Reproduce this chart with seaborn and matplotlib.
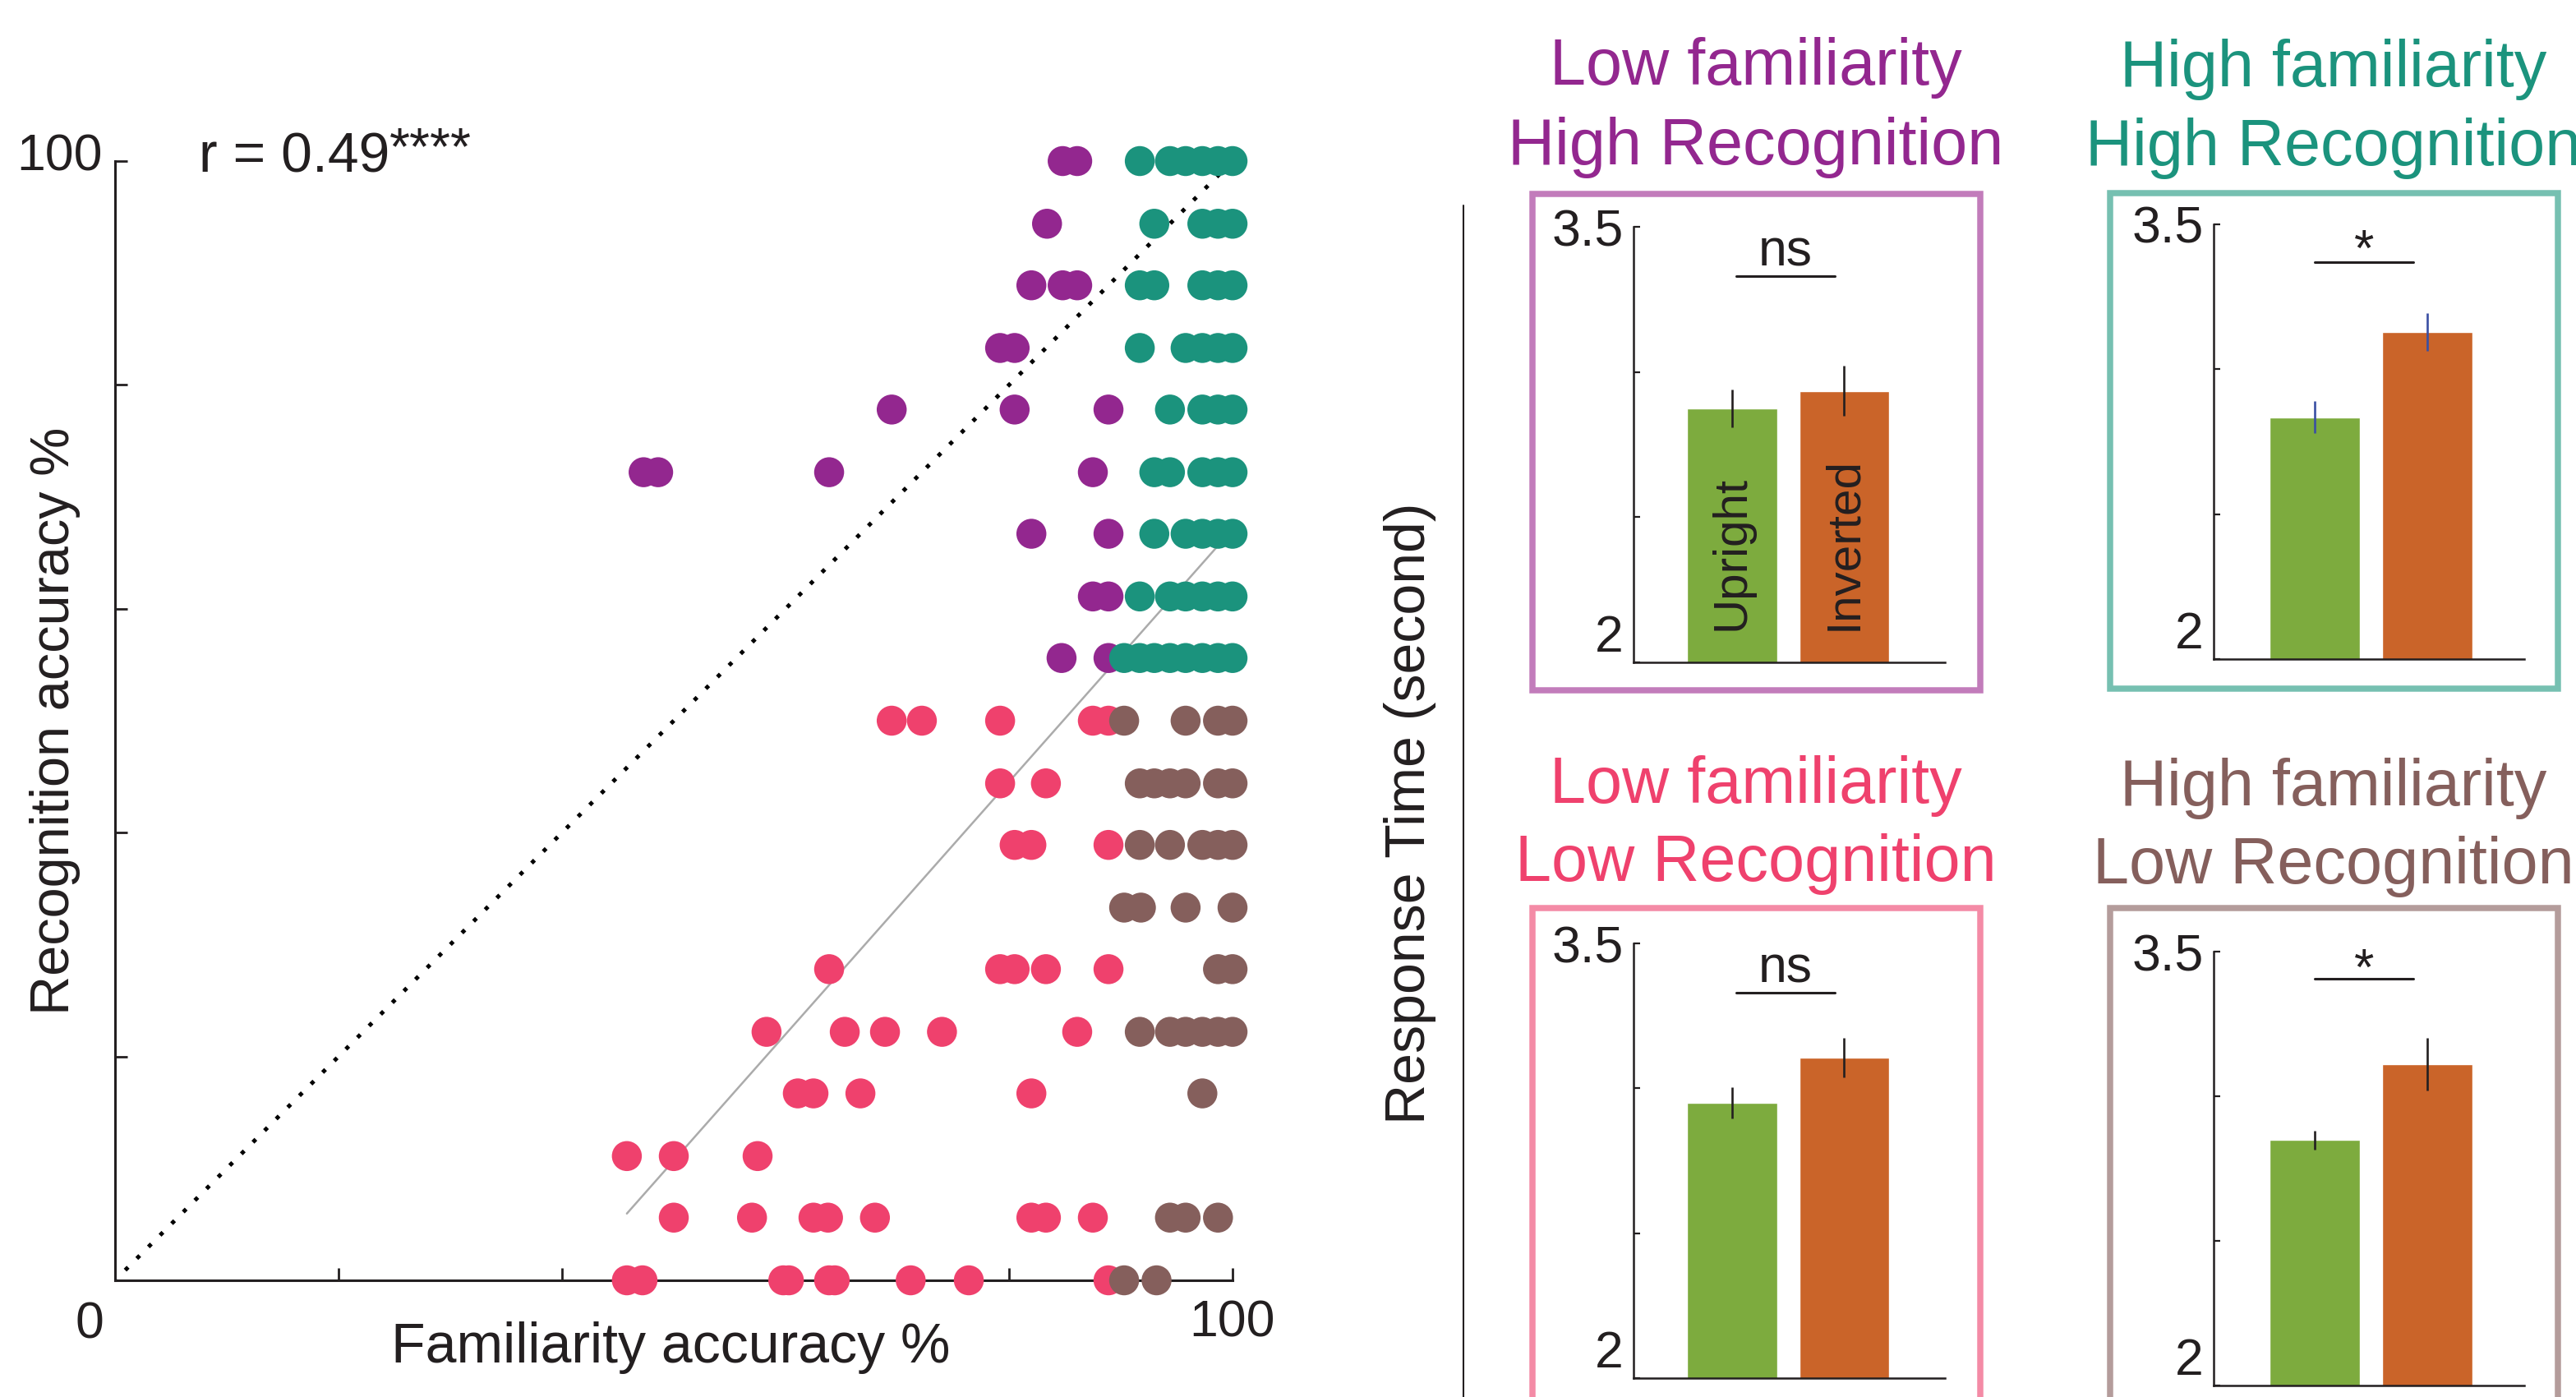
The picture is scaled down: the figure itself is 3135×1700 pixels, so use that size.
import numpy as np
import pandas as pd
import matplotlib
matplotlib.use("Agg")
import matplotlib.pyplot as plt
import seaborn as sns
from matplotlib.patches import Rectangle
from matplotlib.lines import Line2D
from matplotlib.transforms import ScaledTranslation

sns.set_style("ticks")
plt.rcParams['font.family'] = ['Liberation Sans', 'DejaVu Sans']
plt.rcParams['text.color'] = '#231F20'

# ---------------- data: scatter (recognition row -> familiarity values) ----------------
LFHR_rows = {  # low familiarity / high recognition
    100.0: [84.8, 86.1],
    94.4: [83.4],
    88.9: [82.0, 84.8, 86.1],
    83.3: [79.2, 80.5],
    77.8: [69.5, 80.5, 88.9],
    72.2: [47.3, 48.6, 63.9, 87.5],
    66.7: [82.0, 88.9],
    61.1: [87.5, 88.9],
    55.6: [84.7, 88.9],
}
LFLR_rows = {  # low familiarity / low recognition
    50.0: [69.5, 72.2, 79.2, 87.5, 88.9],
    44.4: [79.2, 83.3],
    38.9: [80.5, 82.0, 88.9],
    27.8: [63.9, 79.2, 80.5, 83.3, 88.9],
    22.2: [58.3, 65.3, 68.9, 74.0, 86.1],
    16.7: [61.1, 62.5, 66.7, 82.0],
    11.1: [45.8, 50.0, 57.5],
    5.6: [50.0, 57.0, 62.5, 63.8, 68.0, 82.0, 83.3, 87.5],
    0.0: [45.8, 47.2, 59.8, 60.3, 63.9, 64.4, 71.2, 76.4, 88.9],
}
HFHR_rows = {  # high familiarity / high recognition
    100.0: [91.7, 94.4, 95.8, 97.3, 98.7, 100],
    94.4: [93.0, 97.3, 98.7, 100],
    88.9: [91.7, 93.0, 97.3, 98.7, 100],
    83.3: [91.7, 95.8, 97.3, 98.7, 100],
    77.8: [94.4, 97.3, 98.7, 100],
    72.2: [93.0, 94.4, 97.3, 98.7, 100],
    66.7: [93.0, 95.8, 97.3, 98.7, 100],
    61.1: [91.7, 94.4, 95.8, 97.3, 98.7, 100],
    55.6: [90.3, 91.7, 93.0, 94.4, 95.8, 97.3, 98.7, 100],
}
HFLR_rows = {  # high familiarity / low recognition
    50.0: [90.3, 95.8, 98.7, 100],
    44.4: [91.7, 93.0, 94.4, 95.8, 98.7, 100],
    38.9: [91.7, 94.4, 97.3, 98.7, 100],
    33.3: [90.3, 91.8, 95.8, 100],
    27.8: [98.7, 100],
    22.2: [91.7, 94.4, 95.8, 97.3, 98.7, 100],
    16.7: [97.3],
    5.6: [94.4, 95.8, 98.7],
    0.0: [90.3, 93.2],
}
r_text = "r = 0.49"
r_stars = "****"
fit_slope = 1.128
fit_intercept = -45.7

# ---------------- data: bar panels ----------------
conditions = ["Upright", "Inverted"]
panel_titles = [("Low familiarity", "High Recognition"),
                ("High familiarity", "High Recognition"),
                ("Low familiarity", "Low Recognition"),
                ("High familiarity", "Low Recognition")]
rt_means = [[2.875, 2.935], [2.835, 3.128], [2.950, 3.106], [2.849, 3.111]]
rt_sems = [[0.065, 0.086], [0.054, 0.065], [0.055, 0.068], [0.033, 0.090]]
sig_labels = ["ns", "*", "ns", "*"]

# ---------------- colours ----------------
C_LFHR, C_HFHR, C_LFLR, C_HFLR = "#93278F", "#1B937D", "#EF416D", "#855F5C"
F_LFHR, F_HFHR, F_LFLR, F_HFLR = "#C27CBB", "#76C0B1", "#F48BA6", "#B49C9B"
GREEN, ORANGE = "#7DAB3E", "#CA6429"
INK = "#231F20"

W, H, DPI = 3135, 1700, 100
fig = plt.figure(figsize=(W / DPI, H / DPI), dpi=DPI)
fig.patch.set_facecolor("white")


def rect(x0, y0, x1, y1):
    return [x0 / W, 1 - y1 / H, (x1 - x0) / W, (y1 - y0) / H]


# ---------------- scatter ----------------
frames = []
for name, rows in [("LFHR", LFHR_rows), ("LFLR", LFLR_rows),
                   ("HFHR", HFHR_rows), ("HFLR", HFLR_rows)]:
    for rec, fams in rows.items():
        for f in fams:
            frames.append((name, f, rec))
df = pd.DataFrame(frames, columns=["group", "fam", "rec"])

ax = fig.add_axes(rect(140, 196, 1500, 1558))
ax.set_xlim(0, 100)
ax.set_ylim(0, 100)
ax.axline((0, 0), slope=1, color="black", lw=3.6, linestyle=(0.5, (1, 3.0)), zorder=1)
xf = np.array([df.fam.min(), df.fam.max()])
ax.plot(xf, fit_slope * xf + fit_intercept, color="#ABABAB", lw=1.8, zorder=1)
sns.scatterplot(data=df, x="fam", y="rec", hue="group",
                palette={"LFHR": C_LFHR, "HFHR": C_HFHR, "LFLR": C_LFLR, "HFLR": C_HFLR},
                s=690, linewidth=0, edgecolor="none", legend=False, ax=ax,
                clip_on=False, zorder=3)
sns.despine(ax=ax)
for s in ["left", "bottom"]:
    ax.spines[s].set_linewidth(2.2)
    ax.spines[s].set_color(INK)
ticks = [0, 20, 40, 60, 80, 100]
ax.set_xticks(ticks)
ax.set_yticks(ticks)
ax.set_xticklabels(["", "", "", "", "", "100"])
ax.set_yticklabels(["", "", "", "", "", "100"])
ax.tick_params(direction="in", length=11, width=2.0, color=INK, labelsize=45,
               labelcolor=INK)
ax.tick_params(axis="x", pad=16)
ax.tick_params(axis="y", pad=11)
for lab in ax.get_yticklabels():
    lab.set_transform(lab.get_transform() + ScaledTranslation(0, 0.12, fig.dpi_scale_trans))
ax.text(-0.023, -0.018, "0", transform=ax.transAxes, ha="center", va="top",
        fontsize=45, color=INK)
ax.set_xlabel("Familiarity accuracy %", fontsize=49, color=INK, va="center")
ax.xaxis.set_label_coords(0.497, -0.06)
ax.set_ylabel("Recognition accuracy %", fontsize=48, color=INK, va="center",
              ha="center", rotation=90, rotation_mode="default")
ax.yaxis.set_label_coords(-0.0537, 0.5)
t1 = ax.text(7.5, 99.0, r_text, fontsize=49, ha="left", va="baseline", color=INK)
ax.annotate(r_stars, xy=(1, 1), xycoords=t1, xytext=(0, 5), textcoords="offset points",
            ha="left", va="top", fontsize=46, color=INK)

# ---------------- bar panels ----------------
panel_axes = [(1988, 276, 2367, 806), (2694, 273, 3072, 802),
              (1988, 1148, 2367, 1677), (2694, 1158, 3072, 1686)]
xlims = [(-0.88, 1.9), (-0.90, 1.86), (-0.88, 1.9), (-0.90, 1.86)]
sig_y = [3.33, 3.37, 3.33, 3.405]
sig_x = [(0.036, 0.916), (0.0, 0.873), (0.036, 0.916), (0.0, 0.873)]
sig_text_y = [3.365, 3.358, 3.365, 3.386]
err_colors = [INK, "#3A4FA3", INK, INK]
frame_boxes = [(1865, 236, 2410, 840), (2568, 235, 3113, 838),
               (1865, 1105, 2410, 1760), (2568, 1105, 3113, 1760)]
frame_colors = [F_LFHR, F_HFHR, F_LFLR, F_HFLR]
title_colors = [C_LFHR, C_HFHR, C_LFLR, C_HFLR]
title_pos = [(2137, 103, 200), (2840, 105, 201), (2137, 977, 1072), (2840, 980, 1075)]

for i in range(4):
    fx0, fy0, fx1, fy1 = frame_boxes[i]
    fig.add_artist(Rectangle((fx0 / W, 1 - fy1 / H), (fx1 - fx0) / W, (fy1 - fy0) / H,
                             transform=fig.transFigure, fill=False,
                             edgecolor=frame_colors[i], lw=5.4, clip_on=False))
    tx, b1, b2 = title_pos[i]
    fig.text(tx / W, 1 - b1 / H, panel_titles[i][0], ha="center", va="baseline",
             fontsize=57, color=title_colors[i])
    fig.text(tx / W, 1 - b2 / H, panel_titles[i][1], ha="center", va="baseline",
             fontsize=57, color=title_colors[i])

    a = fig.add_axes(rect(*panel_axes[i]))
    sns.barplot(x=conditions, y=rt_means[i], hue=conditions,
                palette=[GREEN, ORANGE], saturation=1, width=0.8, legend=False,
                ax=a, errorbar=None)
    a.errorbar([0, 1], rt_means[i], yerr=rt_sems[i], fmt="none",
               ecolor=err_colors[i], elinewidth=1.9, capsize=0, zorder=4)
    a.set_ylim(2, 3.5)
    a.set_xlim(*xlims[i])
    a.set_xlabel("")
    a.set_ylabel("")
    sns.despine(ax=a)
    for s in ["left", "bottom"]:
        a.spines[s].set_linewidth(1.8)
        a.spines[s].set_color(INK)
    a.set_yticks([2, 2.5, 3, 3.5])
    a.set_yticklabels(["2", "", "", "3.5"])
    a.set_xticks([0, 1])
    a.set_xticklabels(["", ""])
    a.tick_params(direction="in", length=6, width=1.6, color=INK, labelsize=45,
                  labelcolor=INK, pad=9)
    ylabs = a.get_yticklabels()
    ylabs[0].set_va("bottom")
    ylabs[3].set_va("center_baseline")
    a.plot(sig_x[i], [sig_y[i], sig_y[i]], color=INK, lw=2.2, clip_on=False)
    a.text(np.mean(sig_x[i]), sig_text_y[i], sig_labels[i], ha="center", va="baseline",
           fontsize=45, color=INK, clip_on=False)
    if i == 0:
        for k, c in enumerate(conditions):
            a.text(k, 2.11, c, rotation=90, ha="center", va="bottom", fontsize=42,
                   color=INK)

fig.text(1716 / W, 1 - 990 / H, "Response Time (second)", rotation=90, ha="center",
         va="center", fontsize=49, color=INK)
fig.add_artist(Line2D([1781 / W, 1781 / W], [1 - 250 / H, 0], transform=fig.transFigure,
                      color=INK, lw=1.5))

fig.savefig("out.png", dpi=DPI, facecolor="white")
